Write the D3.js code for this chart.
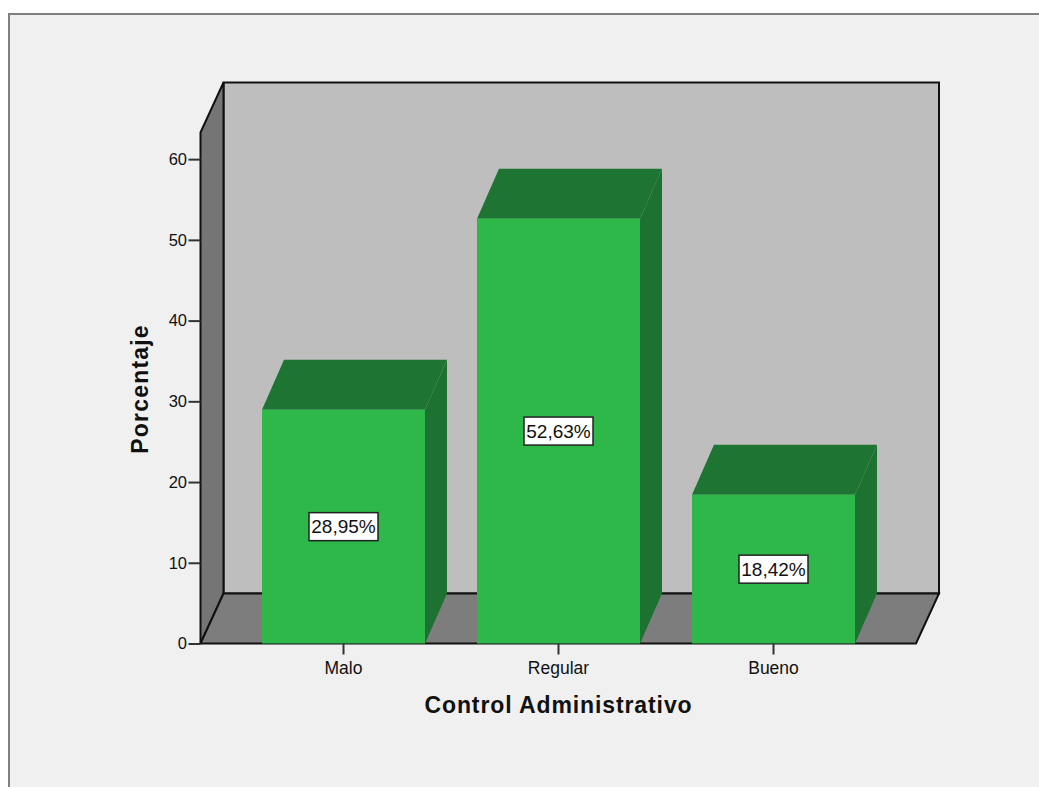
<!DOCTYPE html>
<html>
<head>
<meta charset="utf-8">
<script src="https://cdn.jsdelivr.net/npm/d3@7"></script>
<style>
  html, body { margin: 0; padding: 0; background: #fff; }
  svg { display: block; }
  text { font-family: "Liberation Sans", Arial, sans-serif; fill: #111; }
</style>
</head>
<body>
<svg></svg>
<script>
var categories = ["Malo", "Regular", "Bueno"];
var percentages = [28.95, 52.63, 18.42];
var barLabels = ["28,95%", "52,63%", "18,42%"];
var yTicks = [0, 10, 20, 30, 40, 50, 60];
var yMax = 63.3;

var screen = { width: 1039, height: 787 };
var depth = { x: 23, y: 50 };
var barDepth = { x: 22, y: 50 };

var svg = d3.select("svg")
            .attr("width", screen.width)
            .attr("height", screen.height);

// outer panel, only top and left edges show
svg.append("rect")
   .attr("x", 9).attr("y", 14)
   .attr("width", screen.width).attr("height", screen.height)
   .attr("fill", "#f0f0f0")
   .attr("stroke", "#808080")
   .attr("stroke-width", 2);

var plot = { left: 200.5, right: 916, bottom: 643.5, top: 132.5 };

var yScale = d3.scaleLinear()
               .domain([0, yMax])
               .range([plot.bottom, plot.top]);

var xScale = d3.scaleBand()
               .domain(categories)
               .range([236, 881])
               .paddingInner(52 / 215)
               .paddingOuter(26 / 215);

var poly = function(pts) {
  return pts.map(function(p) { return p.join(","); }).join(" ");
};

var box = svg.append("g").classed("box", true);

// back wall
box.append("polygon")
   .attr("points", poly([
     [plot.left + depth.x, plot.top - depth.y],
     [plot.right + depth.x, plot.top - depth.y],
     [plot.right + depth.x, plot.bottom - depth.y],
     [plot.left + depth.x, plot.bottom - depth.y]]))
   .attr("fill", "#bebebe")
   .attr("stroke", "#111")
   .attr("stroke-width", 2);

// left wall
box.append("polygon")
   .attr("points", poly([
     [plot.left, plot.top],
     [plot.left + depth.x, plot.top - depth.y],
     [plot.left + depth.x, plot.bottom - depth.y],
     [plot.left, plot.bottom]]))
   .attr("fill", "#757575")
   .attr("stroke", "#111")
   .attr("stroke-width", 2);

// floor
box.append("polygon")
   .attr("points", poly([
     [plot.left, plot.bottom],
     [plot.left + depth.x, plot.bottom - depth.y],
     [plot.right + depth.x, plot.bottom - depth.y],
     [plot.right, plot.bottom]]))
   .attr("fill", "#7d7d7d")
   .attr("stroke", "#111")
   .attr("stroke-width", 2);

var bars = svg.append("g")
              .classed("bars", true)
              .selectAll("g")
              .data(percentages)
              .enter()
              .append("g");

// side and top faces
bars.append("polygon")
    .attr("points", function(d, i) {
      var x1 = xScale(categories[i]) + xScale.bandwidth();
      return poly([
        [x1, yScale(d)],
        [x1 + barDepth.x, yScale(d) - barDepth.y],
        [x1 + barDepth.x, yScale(0) - barDepth.y],
        [x1, yScale(0)]]);
    })
    .attr("fill", "#1d7232");

bars.append("polygon")
    .attr("points", function(d, i) {
      var x0 = xScale(categories[i]);
      var x1 = x0 + xScale.bandwidth();
      return poly([
        [x0, yScale(d)],
        [x0 + barDepth.x, yScale(d) - barDepth.y],
        [x1 + barDepth.x, yScale(d) - barDepth.y],
        [x1, yScale(d)]]);
    })
    .attr("fill", "#1e7433");

bars.append("rect")
    .attr("x", function(d, i) { return xScale(categories[i]); })
    .attr("y", function(d) { return yScale(d); })
    .attr("width", xScale.bandwidth())
    .attr("height", function(d) { return yScale(0) - yScale(d); })
    .attr("fill", "#2eb84a");

var yAxis = d3.axisLeft(yScale)
              .tickValues(yTicks)
              .tickSize(12)
              .tickPadding(1.5);

var xAxis = d3.axisBottom(xScale)
              .tickSize(11)
              .tickPadding(7);

var yAxisG = svg.append("g")
                .classed("yAxis", true)
                .attr("transform", "translate(" + plot.left + ",0)")
                .call(yAxis);

var xAxisG = svg.append("g")
                .classed("xAxis", true)
                .attr("transform", "translate(0," + plot.bottom + ")")
                .call(xAxis);

yAxisG.select(".domain").remove();
xAxisG.select(".domain").remove();
svg.selectAll(".yAxis line, .xAxis line")
   .attr("stroke", "#333")
   .attr("stroke-width", 2);
yAxisG.selectAll("text")
      .attr("font-size", 16.5)
      .attr("font-family", "Liberation Sans")
      .attr("fill", "#222");
xAxisG.selectAll("text")
      .attr("font-size", 17.5)
      .attr("font-family", "Liberation Sans")
      .attr("fill", "#222");

// value labels in the middle of each bar
var labels = svg.append("g")
                .classed("labels", true)
                .selectAll("g")
                .data(percentages)
                .enter()
                .append("g")
                .attr("transform", function(d, i) {
                  var cx = xScale(categories[i]) + xScale.bandwidth() / 2;
                  return "translate(" + cx + "," + yScale(d / 2) + ")";
                });

labels.append("rect")
      .attr("x", -34.5)
      .attr("y", -14)
      .attr("width", 69)
      .attr("height", 28)
      .attr("fill", "#fff")
      .attr("stroke", "#222")
      .attr("stroke-width", 1.5);

labels.append("text")
      .attr("text-anchor", "middle")
      .attr("y", 6.5)
      .attr("font-size", 19)
      .text(function(d, i) { return barLabels[i]; });

svg.append("text")
   .attr("x", 558.5)
   .attr("y", 713)
   .attr("text-anchor", "middle")
   .attr("font-size", 23)
   .attr("letter-spacing", 0.9)
   .attr("font-weight", "bold")
   .text("Control Administrativo");

svg.append("text")
   .attr("transform", "translate(148,389) rotate(-90)")
   .attr("text-anchor", "middle")
   .attr("font-size", 23)
   .attr("letter-spacing", 1.2)
   .attr("font-weight", "bold")
   .text("Porcentaje");
</script>
</body>
</html>
